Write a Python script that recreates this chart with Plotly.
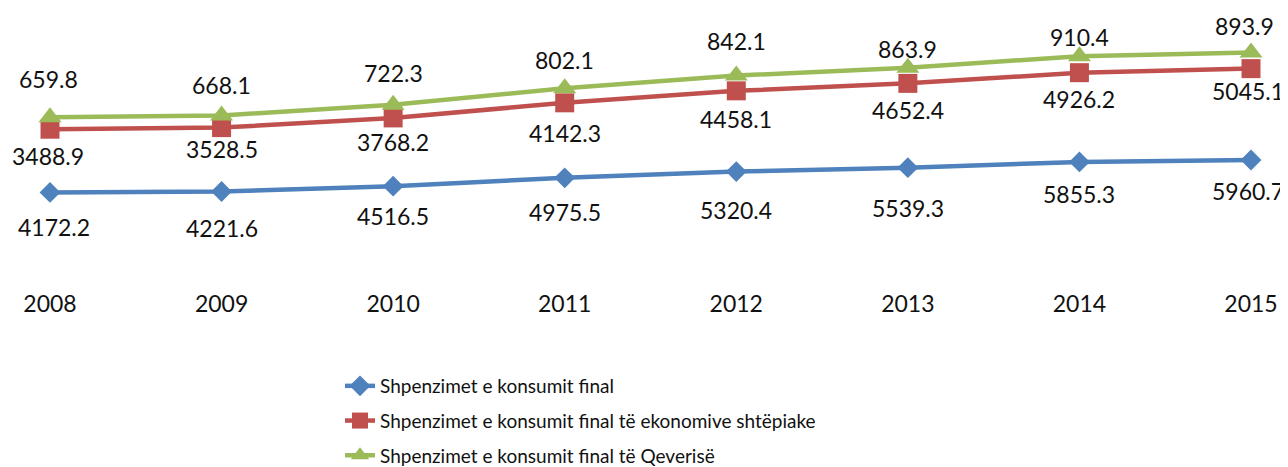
import numpy as np
import plotly.graph_objects as go

years = [2008, 2009, 2010, 2011, 2012, 2013, 2014, 2015]
final_consumption = [4172.2, 4221.6, 4516.5, 4975.5, 5320.4, 5539.3, 5855.3, 5960.7]
household_consumption = [3488.9, 3528.5, 3768.2, 4142.3, 4458.1, 4652.4, 4926.2, 5045.1]
government_consumption = [659.8, 668.1, 722.3, 802.1, 842.1, 863.9, 910.4, 893.9]

names = [
    "Shpenzimet e konsumit final",
    "Shpenzimet e konsumit final të ekonomive shtëpiake",
    "Shpenzimet e konsumit final të Qeverisë",
]

# styles
colors = ["#4F81BD", "#C0504D", "#9BBB59"]
symbols = ["diamond", "square", "triangle-up"]
msizes = [16, 19, 20]
# label pixel offsets (positive = below point, negative = above)
label_offsets = [
    [35, 36, 30, 34, 38, 40, 32, 31],
    [27, 21, 24, 30, 28, 27, 26, 22],
    [-38, -31, -32, -28, -35, -19, -19, -26],
]
# horizontal label nudges (pixels)
label_xshift = [
    [4, 0, 0, 0, 0, 0, 0, -3],
    [-2, 0, 0, 0, 0, 0, 0, -3],
    [-2, 0, 0, 0, 0, 0, 0, -7],
]

series = [final_consumption, household_consumption, government_consumption]
stacked = np.cumsum(np.array(series), axis=0)  # stacked line chart

FONT = "Lato, 'Open Sans', sans-serif"
fig = go.Figure()
annotations = []
for i in range(3):
    fig.add_trace(go.Scatter(
        x=years, y=stacked[i], name=names[i], mode="lines+markers",
        line=dict(color=colors[i], width=4.5),
        marker=dict(symbol=symbols[i], size=msizes[i], color=colors[i], line=dict(width=0)),
        legendgroup=f"g{i}",
    ))
    for j, yr in enumerate(years):
        annotations.append(dict(
            x=yr, y=stacked[i][j], xref="x", yref="y", text=f"{series[i][j]:.1f}",
            showarrow=False, yshift=-label_offsets[i][j], xshift=label_xshift[i][j],
            xanchor="center", yanchor="middle",
            font=dict(family=FONT, size=23, color="#111111"),
        ))

W, H = 1288, 467          # page adds an 8px body margin; overflow is clipped by the window
spacing = (1251 - 50) / 7
left_px = 50 - 8           # 2008 position inside the figure
fig.update_layout(
    width=W, height=H,
    margin=dict(l=0, r=0, t=2, b=H - 260, autoexpand=False),
    paper_bgcolor="white", plot_bgcolor="white",
    showlegend=True,
    legend=dict(
        xref="container", yref="container",
        x=332 / W, xanchor="left", y=1 - 359 / H, yanchor="top",
        font=dict(family=FONT, size=19, color="#111111"),
        tracegroupgap=7, bgcolor="rgba(0,0,0,0)",
    ),
    annotations=annotations,
    xaxis=dict(
        range=[2008 - left_px / spacing, 2008 + (W - left_px) / spacing],
        tickvals=years, ticktext=[str(y) for y in years],
        showgrid=False, zeroline=False, showline=False, ticks="",
        ticklabelstandoff=20, automargin=False,
        tickfont=dict(family=FONT, size=23, color="#111111"),
    ),
    yaxis=dict(range=[0, 258 * 55.2], visible=False, showgrid=False, automargin=False),
)

fig.write_html("out.html")
